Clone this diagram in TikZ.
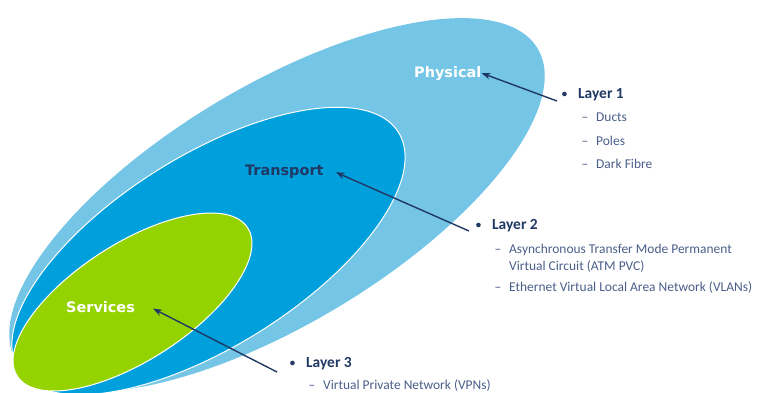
\documentclass[tikz,border=0pt]{standalone}
\usepackage{fontspec}
\setmainfont{Carlito}
\newfontfamily\ringfont{DejaVu Sans}
\usepackage{tikz}
\usetikzlibrary{arrows.meta}
\definecolor{physblue}{HTML}{75C6E6}
\definecolor{transblue}{HTML}{00A0DC}
\definecolor{servgreen}{HTML}{95D300}
\definecolor{navy}{HTML}{1F3864}
\definecolor{itemblue}{HTML}{4A5E8A}
\tikzset{
  ring/.style={draw=white, line width=1bp},
  ringlabel/.style={font=\ringfont\bfseries\fontsize{14.5}{16}\selectfont, inner sep=0pt, anchor=base west},
  pointer/.style={navy, line width=1.4bp, -{Stealth[length=9bp,width=6.5bp]}},
  head/.style={font=\bfseries\fontsize{15.5}{18}\selectfont, text=navy, inner sep=0pt, anchor=base west},
  item/.style={font=\fontsize{13.5}{16}\selectfont, text=itemblue, inner sep=0pt, anchor=base west},
}

\begin{document}
\begin{tikzpicture}[x=1bp, y=-1bp]
\newcommand{\itemdash}{\llap{\textendash\hspace{8bp}}}
\newcommand{\headdot}{\llap{\raisebox{0.5bp}{\scalebox{0.7}{\textbullet}}\hspace{11bp}}}
\useasboundingbox (0, 0) rectangle (778, 392);
\begin{scope}
  \clip (0, 0) rectangle (778, 392);
  \fill[physblue, rotate around={31:(277, 205)}] (277, 205) ellipse (304bp and 119bp);
  \filldraw[ring, fill=transblue, rotate around={32:(208.5, 251)}] (208.5, 251) ellipse (224bp and 95.5bp);
  \filldraw[ring, fill=servgreen, rotate around={32.8:(132.5, 302)}] (132.5, 302) ellipse (137bp and 58.4bp);
\end{scope}
%% ring names
\node[ringlabel, text=white] (phys) at (414, 77) {Physical};
\node[ringlabel, text=navy] (trans) at (245, 175) {Transport};
\node[ringlabel, text=white] (serv) at (66, 312) {Services};
%% layer 1
\node[head] (l1) at (578, 98) {\headdot Layer 1};
\node[item] (l1a) at (596, 121.7) {\itemdash Ducts};
\node[item] (l1b) at (596, 145) {\itemdash Poles};
\node[item] (l1c) at (596, 168.3) {\itemdash Dark Fibre};
%% layer 2
\node[head] (l2) at (492, 229) {\headdot Layer 2};
\node[item] (l2a) at (509, 253.3) {\itemdash Asynchronous Transfer Mode Permanent};
\node[item] (l2b) at (509, 270.7) {Virtual Circuit (ATM PVC)};
\node[item] (l2c) at (509, 291.7) {\itemdash Ethernet Virtual Local Area Network (VLANs)};
%% layer 3
\node[head] (l3) at (306, 367) {\headdot Layer 3};
\node[item] (l3a) at (323, 389) {\itemdash Virtual Private Network (VPNs)};
%% pointers
\coordinate (s1) at ([xshift=-21bp, yshift=-3bp]l1.base west);
\coordinate (s2) at ([xshift=-23bp, yshift=-2bp]l2.base west);
\coordinate (s3) at ([xshift=-29bp, yshift=-5bp]l3.base west);
\draw[pointer] (s1) -- (phys.east);
\draw[pointer] (s2) -- ([xshift=12bp, yshift=-1bp]trans.east);
\draw[pointer] (s3) -- ([xshift=18bp, yshift=-2bp]serv.east);
\end{tikzpicture}
\end{document}
